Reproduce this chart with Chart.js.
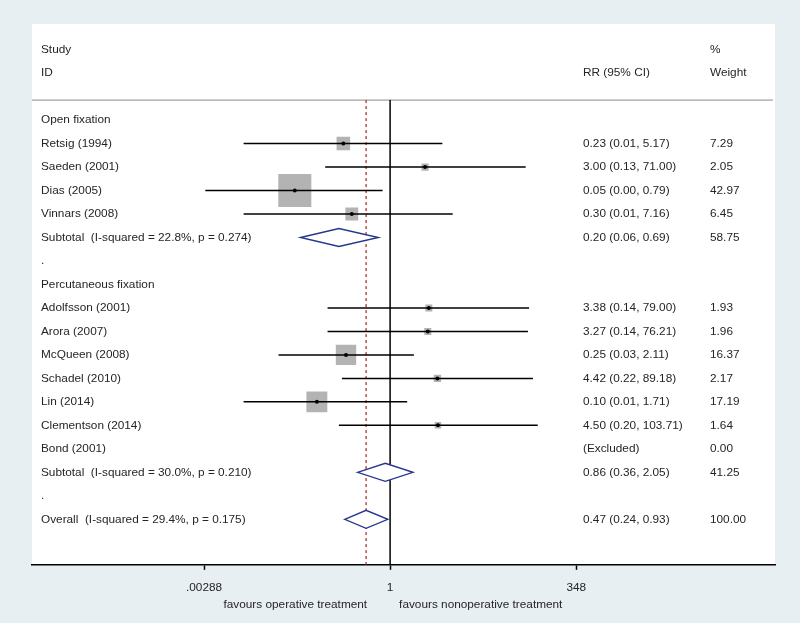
<!DOCTYPE html>
<html>
<head>
<meta charset="utf-8">
<script src="https://cdn.jsdelivr.net/npm/chart.js@4.4.1/dist/chart.umd.min.js"></script>
<style>
  html, body { margin: 0; padding: 0; background: #e8eff3; }
  #forest { display: block; }
</style>
</head>
<body>
<canvas id="forest" width="800" height="623"></canvas>
<script>
/** Data **/

// one entry per row of the plot, top to bottom
const row_labels = [
    "Open fixation",
    "Retsig (1994)",
    "Saeden (2001)",
    "Dias (2005)",
    "Vinnars (2008)",
    "Subtotal  (I-squared = 22.8%, p = 0.274)",
    ".",
    "Percutaneous fixation",
    "Adolfsson (2001)",
    "Arora (2007)",
    "McQueen (2008)",
    "Schadel (2010)",
    "Lin (2014)",
    "Clementson (2014)",
    "Bond (2001)",
    "Subtotal  (I-squared = 30.0%, p = 0.210)",
    ".",
    "Overall  (I-squared = 29.4%, p = 0.175)"
];
const row_kinds = ["group", "study", "study", "study", "study", "pooled", "blank",
                   "group", "study", "study", "study", "study", "study", "study", "excluded", "pooled", "blank",
                   "pooled"];
const rr_values = [null, 0.23, 3.00, 0.05, 0.30, 0.20, null, null, 3.38, 3.27, 0.25, 4.42, 0.10, 4.50, null, 0.86, null, 0.47];
const ci_lower  = [null, 0.01, 0.13, 0.003, 0.01, 0.06, null, null, 0.14, 0.14, 0.03, 0.22, 0.01, 0.20, null, 0.36, null, 0.24];
const ci_upper  = [null, 5.17, 71.00, 0.79, 7.16, 0.69, null, null, 79.00, 76.21, 2.11, 89.18, 1.71, 103.71, null, 2.05, null, 0.93];
const weights   = [null, 7.29, 2.05, 42.97, 6.45, 58.75, null, null, 1.93, 1.96, 16.37, 2.17, 17.19, 1.64, 0.00, 41.25, null, 100.00];

// x axis ticks
const tick_values = [0.00288, 1, 348];
const tick_labels = [".00288", "1", "348"];

const overall_rr = 0.47;

/** Styles **/
const text_color = "#252525";
const font_family = "'Liberation Sans', Arial, sans-serif";
const font_size = 11.8;
const square_color = "#b3b3b3";
const diamond_color = "#25378a";
const null_line_color = "#000000";
const overall_line_color = "#b03030";

function rr_text(i) {
    if (row_kinds[i] === "excluded") return "(Excluded)";
    if (rr_values[i] === null) return "";
    return rr_values[i].toFixed(2) + " (" + ci_lower[i].toFixed(2) + ", " + ci_upper[i].toFixed(2) + ")";
}

function weight_text(i) {
    if (weights[i] === null) return "";
    return weights[i].toFixed(2);
}

// squares: area proportional to the weight
function square_radius(w) {
    return 5.04 * Math.sqrt(w) / Math.SQRT2;
}

const study_points = [];
const study_radii = [];
row_kinds.forEach(function(kind, i) {
    if (kind === "study") {
        study_points.push({x: rr_values[i], y: i});
        study_radii.push(square_radius(weights[i]));
    }
});

/** Plugin drawing panel, lines, diamonds and text columns **/
const forest_plugin = {
    id: "forest",
    beforeDraw(chart) {
        const ctx = chart.ctx;
        const area = chart.chartArea;
        ctx.save();
        ctx.fillStyle = "#e8eff3";
        ctx.fillRect(0, 0, chart.width, chart.height);
        ctx.fillStyle = "#ffffff";
        ctx.fillRect(area.left, area.top, area.right - area.left, area.bottom - area.top);
        ctx.restore();
    },
    beforeDatasetsDraw(chart) {
        const ctx = chart.ctx;
        const xs = chart.scales.x;
        const ys = chart.scales.y;
        const area = chart.chartArea;
        const top = ys.getPixelForValue(-0.85);

        ctx.save();
        // header separator
        ctx.strokeStyle = "#8a8a8a";
        ctx.lineWidth = 1;
        ctx.beginPath();
        ctx.moveTo(area.left, top);
        ctx.lineTo(area.right - 2, top);
        ctx.stroke();

        // line of no effect
        ctx.strokeStyle = null_line_color;
        ctx.lineWidth = 1.5;
        ctx.beginPath();
        ctx.moveTo(xs.getPixelForValue(1), top);
        ctx.lineTo(xs.getPixelForValue(1), area.bottom);
        ctx.stroke();

        // overall estimate
        ctx.strokeStyle = overall_line_color;
        ctx.lineWidth = 1.3;
        ctx.setLineDash([3, 3]);
        ctx.beginPath();
        ctx.moveTo(xs.getPixelForValue(overall_rr), top);
        ctx.lineTo(xs.getPixelForValue(overall_rr), area.bottom);
        ctx.stroke();
        ctx.setLineDash([]);

        // diamonds
        ctx.strokeStyle = diamond_color;
        ctx.fillStyle = "#ffffff";
        ctx.lineWidth = 1.4;
        row_kinds.forEach(function(kind, i) {
            if (kind !== "pooled") return;
            const y = ys.getPixelForValue(i);
            ctx.beginPath();
            ctx.moveTo(xs.getPixelForValue(ci_lower[i]), y);
            ctx.lineTo(xs.getPixelForValue(rr_values[i]), y - 9);
            ctx.lineTo(xs.getPixelForValue(ci_upper[i]), y);
            ctx.lineTo(xs.getPixelForValue(rr_values[i]), y + 9);
            ctx.closePath();
            ctx.fill();
            ctx.stroke();
        });

        // text columns
        ctx.fillStyle = text_color;
        ctx.font = font_size + "px " + font_family;
        ctx.textBaseline = "middle";
        ctx.textAlign = "left";
        const x_label = area.left + 9;
        const x_rr = 583;
        const x_weight = 710;
        ctx.fillText("Study", x_label, ys.getPixelForValue(-3));
        ctx.fillText("ID", x_label, ys.getPixelForValue(-2));
        ctx.fillText("RR (95% CI)", x_rr, ys.getPixelForValue(-2));
        ctx.fillText("%", x_weight, ys.getPixelForValue(-3));
        ctx.fillText("Weight", x_weight, ys.getPixelForValue(-2));
        row_labels.forEach(function(label, i) {
            const y = ys.getPixelForValue(i);
            ctx.fillText(label, x_label, y);
            ctx.fillText(rr_text(i), x_rr, y);
            ctx.fillText(weight_text(i), x_weight, y);
        });

        // favours labels
        const x1 = xs.getPixelForValue(1);
        ctx.textAlign = "right";
        ctx.fillText("favours operative treatment", x1 - 23, 605);
        ctx.textAlign = "left";
        ctx.fillText("favours nonoperative treatment", x1 + 9, 605);
        ctx.restore();
    },
    afterDatasetDraw(chart, args) {
        // confidence intervals go over the squares, under the dots
        if (args.index !== 0) return;
        const ctx = chart.ctx;
        const xs = chart.scales.x;
        const ys = chart.scales.y;
        ctx.save();
        ctx.strokeStyle = "#000000";
        ctx.lineWidth = 1.5;
        row_kinds.forEach(function(kind, i) {
            if (kind !== "study") return;
            const y = ys.getPixelForValue(i);
            ctx.beginPath();
            ctx.moveTo(xs.getPixelForValue(ci_lower[i]), y);
            ctx.lineTo(xs.getPixelForValue(ci_upper[i]), y);
            ctx.stroke();
        });
        ctx.restore();
    }
};

/** Chart **/
new Chart(document.getElementById("forest"), {
    type: "scatter",
    data: {
        datasets: [{
            data: study_points,
            pointStyle: "rect",
            pointRadius: study_radii,
            pointHoverRadius: study_radii,
            backgroundColor: square_color,
            borderWidth: 0,
            order: 2
        }, {
            data: study_points,
            pointStyle: "circle",
            pointRadius: 2,
            backgroundColor: "#000000",
            borderWidth: 0,
            order: 1
        }]
    },
    options: {
        responsive: false,
        animation: false,
        events: [],
        layout: {
            padding: {left: 32, right: 25, top: 24, bottom: 17}
        },
        plugins: {
            legend: {display: false},
            tooltip: {enabled: false}
        },
        scales: {
            x: {
                type: "logarithmic",
                min: 1.29e-5,
                max: 1.8e5,
                afterBuildTicks: function(scale) {
                    scale.ticks = tick_values.map(function(v) { return {value: v}; });
                },
                ticks: {
                    autoSkip: false,
                    maxRotation: 0,
                    padding: 11,
                    color: text_color,
                    font: {family: font_family, size: font_size},
                    callback: function(value, index) { return tick_labels[index]; }
                },
                grid: {
                    drawOnChartArea: false,
                    drawTicks: true,
                    tickLength: 5,
                    tickWidth: 1.5,
                    tickColor: "#000000"
                },
                border: {display: true, color: "#000000", width: 1.5}
            },
            y: {
                type: "linear",
                display: false,
                reverse: true,
                min: -4.09,
                max: 18.94
            }
        }
    },
    plugins: [forest_plugin]
});
</script>
</body>
</html>
